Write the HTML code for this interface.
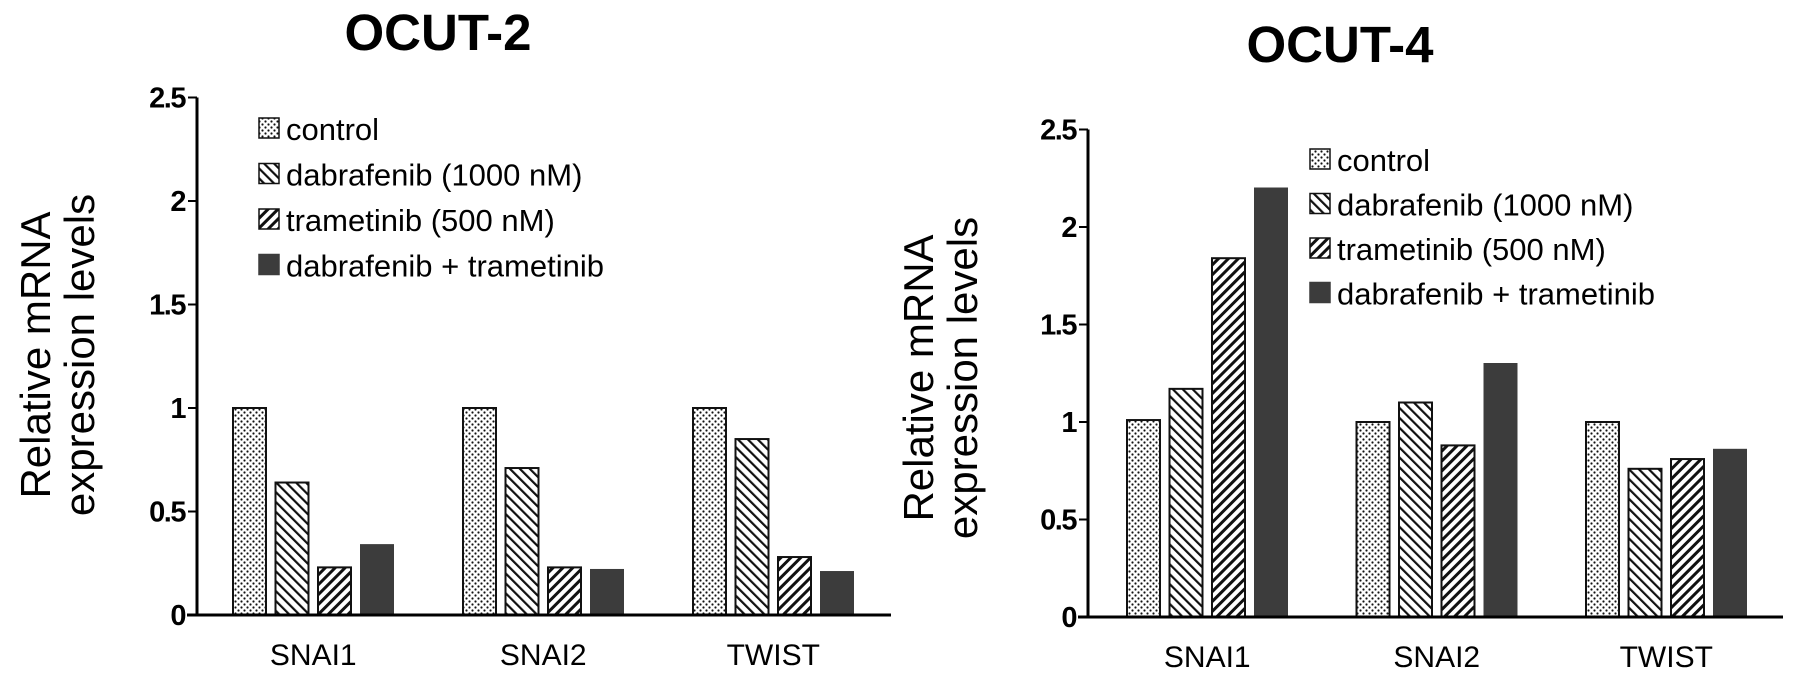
<!DOCTYPE html>
<html><head><meta charset="utf-8"><style>
html,body{margin:0;padding:0;background:#fff;}
svg{display:block;font-family:"Liberation Sans",Arial,sans-serif;}
</style></head><body>
<svg id="fig" width="1795" height="684" viewBox="0 0 1795 684" xmlns="http://www.w3.org/2000/svg">
<defs>
<pattern id="pDots" width="6" height="6" patternUnits="userSpaceOnUse"><rect width="6" height="6" fill="#fff"/><circle cx="1.5" cy="1.5" r="1.1" fill="#111"/><circle cx="4.5" cy="4.5" r="1.1" fill="#111"/></pattern>
<pattern id="pBack" width="7" height="7" patternUnits="userSpaceOnUse" patternTransform="rotate(-45)"><rect width="7" height="7" fill="#fff"/><rect x="0" y="0" width="2.2" height="7" fill="#111"/></pattern>
<pattern id="pFwd" width="7" height="7" patternUnits="userSpaceOnUse" patternTransform="rotate(45)"><rect width="7" height="7" fill="#fff"/><rect x="0" y="0" width="3" height="7" fill="#111"/></pattern>
</defs>
<g id="left"></g>
<g id="right"></g>
</svg>
<script>
const categories = ["SNAI1","SNAI2","TWIST"];
const seriesNames = ["control","dabrafenib (1000 nM)","trametinib (500 nM)","dabrafenib + trametinib"];
const ocut2Control = [1.0, 1.0, 1.0];
const ocut2Dabrafenib = [0.64, 0.71, 0.85];
const ocut2Trametinib = [0.23, 0.23, 0.28];
const ocut2Combo = [0.34, 0.22, 0.21];
const ocut4Control = [1.01, 1.0, 1.0];
const ocut4Dabrafenib = [1.17, 1.10, 0.76];
const ocut4Trametinib = [1.84, 0.88, 0.81];
const ocut4Combo = [2.20, 1.30, 0.86];
const yTicks = [0, 0.5, 1, 1.5, 2, 2.5];
const yTickLabels = ["0","0.5","1","1.5","2","2.5"];

const NS = "http://www.w3.org/2000/svg";
const fills = ["url(#pDots)","url(#pBack)","url(#pFwd)","#3c3c3c"];
function mk(tag, attrs, parent){const e=document.createElementNS(NS,tag);for(const k in attrs)e.setAttribute(k,attrs[k]);parent.appendChild(e);return e;}

function drawChart(g, cfg, series){
  const y = v => cfg.base - v*cfg.unit;
  const x = (ci, si) => cfg.groupStart + ci*cfg.groupPitch + si*cfg.barPitch;
  const t = mk("text",{x:cfg.titleX,y:cfg.titleY,"text-anchor":"middle","font-size":51,"font-weight":"bold",fill:"#000"},g);
  t.textContent = cfg.title;
  
  
  const yt = mk("text",{transform:`translate(${cfg.ytX},${cfg.ytY}) rotate(-90)`,"text-anchor":"middle","font-size":42,fill:"#000"},g);
  
  
  const l1 = mk("tspan",{x:0,dy:0},yt); l1.textContent="Relative mRNA";
  const l2 = mk("tspan",{x:0,dy:44},yt); l2.textContent="expression levels";
  series.forEach((vals, si) => {
    vals.forEach((v, ci) => {
      const bx = x(ci, si), by = y(v);
      const r = mk("rect",{x:bx,y:by,width:cfg.barW,height:cfg.base-by,fill:fills[si],stroke:si===3?"#3c3c3c":"#111","stroke-width":si===3?1:2},g);
      
      
    });
  });
  const ya = mk("line",{x1:cfg.axisX,y1:y(2.5),x2:cfg.axisX,y2:cfg.base,stroke:"#000","stroke-width":3},g);
  
  
  const xa = mk("line",{x1:cfg.axisX-10,y1:cfg.base,x2:cfg.axisEnd,y2:cfg.base,stroke:"#000","stroke-width":3},g);
  
  
  yTicks.forEach((v,i)=>{
    const tk = mk("line",{x1:cfg.axisX-9,y1:y(v),x2:cfg.axisX,y2:y(v),stroke:"#000","stroke-width":2},g);
    
    
    const tl = mk("text",{x:cfg.axisX-12,y:y(v)+10,"text-anchor":"end","font-size":29,"font-weight":"bold",fill:"#000","letter-spacing":"-1.5"},g);
    tl.textContent = yTickLabels[i];
    
    
  });
  categories.forEach((c,ci)=>{
    const cx = x(ci,0) + (cfg.barPitch*3+cfg.barW)/2;
    const xl = mk("text",{x:cx,y:cfg.base+50,"text-anchor":"middle","font-size":30,fill:"#000"},g);
    xl.textContent = c;
    
    
  });
  const lg = mk("g",{},g);
  
  
  seriesNames.forEach((n,si)=>{
    const ly = cfg.legY + si*cfg.legStep;
    const sw = mk("rect",{x:cfg.legX,y:ly-10,width:20,height:20,fill:fills[si],stroke:si===3?"#3c3c3c":"#111","stroke-width":1.5},lg);
    
    
    const lt = mk("text",{x:cfg.legX+27,y:ly+12,"font-size":31,fill:"#000"},lg);
    lt.textContent = n;
    
    
  });
}

drawChart(document.getElementById("left"),{
  title:"OCUT-2",titleX:438,titleY:50,ytX:50,ytY:355,
  base:615,unit:207,axisX:197,axisEnd:891,
  groupStart:233,groupPitch:230,barPitch:42.5,barW:33,
  legX:259,legY:128,legStep:45.5
},[ocut2Control,ocut2Dabrafenib,ocut2Trametinib,ocut2Combo]);

drawChart(document.getElementById("right"),{
  title:"OCUT-4",titleX:1340,titleY:62,ytX:933,ytY:378,
  base:617,unit:195,axisX:1088,axisEnd:1783,
  groupStart:1127,groupPitch:229.5,barPitch:42.5,barW:33,
  legX:1310,legY:159,legStep:44.5
},[ocut4Control,ocut4Dabrafenib,ocut4Trametinib,ocut4Combo]);
</script>
</body></html>
